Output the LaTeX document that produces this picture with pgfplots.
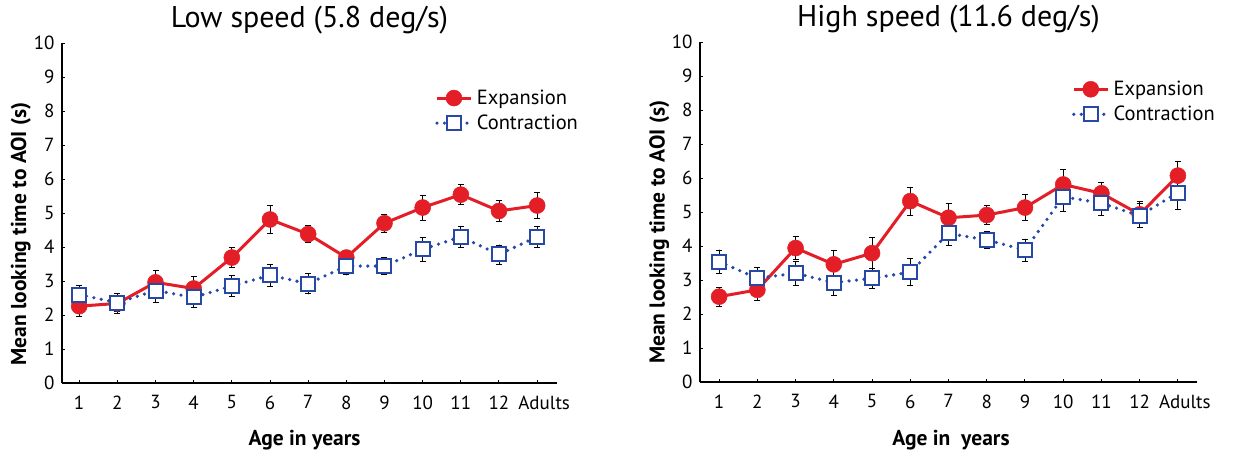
\documentclass[border=0pt]{standalone}
\usepackage{fontspec}
\setmainfont{PT Sans}
\usepackage{pgfplots}
\pgfplotsset{compat=1.18}
\definecolor{expred}{RGB}{228,30,38}
\definecolor{conblue}{RGB}{40,72,165}
\pgfplotsset{
  myaxis/.style={
    scale only axis, height=340pt,
    ymin=0, ymax=10,
    axis x line*=bottom, axis y line*=left,
    axis line style={line width=1.3pt, -, black},
    xtick={1,...,13},
    xticklabels={1,2,3,4,5,6,7,8,9,10,11,12,\hspace*{14pt}Adults},
    ytick={0,...,10},
    tick align=inside, major tick length=3pt,
    tick style={line width=1pt, black},
    tick label style={font=\fontsize{19}{22}\selectfont},
    xticklabel style={yshift=-9pt},
    yticklabel style={xshift=-4pt},
    /pgf/number format/assume math mode=true,
    label style={font=\bfseries\fontsize{21.5}{25}\selectfont},
    title style={at={(axis description cs:0.5,1)}, anchor=base, yshift=9pt, font=\fontsize{30}{36}\selectfont},
    legend style={draw=none, fill=none, inner sep=0pt, font=\fontsize{20.5}{24}\selectfont, row sep=5pt, anchor=north west,
      nodes={inner xsep=4pt}},
    legend cell align=left,
    legend image code/.code={\draw[mark repeat=2,mark phase=2] plot coordinates {(0pt,0pt) (17pt,0pt) (34pt,0pt)};},
    error bars/error bar style={black, line width=0.9pt, solid},
    error bars/error mark options={rotate=90, mark size=3pt, black, line width=0.9pt, solid},
  },
  expstyle/.style={color=expred, line width=3pt, solid, mark=*, mark size=8pt,
    mark options={fill=expred, draw=expred, line width=0.5pt, solid},
    error bars/.cd, y dir=both, y explicit},
  constyle/.style={color=conblue, line width=3.6pt, line cap=round, dash pattern=on 0pt off 7.5pt,
    mark=square*, mark size=7pt, mark options={fill=white, draw=conblue, line width=2pt, solid},
    error bars/.cd, y dir=both, y explicit},
}
\begin{document}
\begin{tikzpicture}
\useasboundingbox (0,0) rectangle (1249pt,456pt);
\begin{axis}[myaxis, at={(62pt,73pt)}, anchor=south west, width=495pt,
  xmin=0.55, xmax=13.52,
  title={Low speed (5.8 deg/s)},
  xlabel={Age in years}, ylabel={Mean looking time to AOI (s)},
  xlabel style={at={(axis description cs:0.49,-0.185)}, anchor=base},
  ylabel style={at={(axis description cs:-0.083,0.438)}, anchor=center},
  legend style={at={(0.7535,0.868)}}]
\addplot[expstyle] coordinates {
 (1,2.26) +- (0,0.30) (2,2.34) +- (0,0.29) (3,2.96) +- (0,0.34) (4,2.78) +- (0,0.34)
 (5,3.69) +- (0,0.30) (6,4.81) +- (0,0.41) (7,4.38) +- (0,0.26) (8,3.69) +- (0,0.22)
 (9,4.70) +- (0,0.27) (10,5.16) +- (0,0.37) (11,5.54) +- (0,0.30) (12,5.06) +- (0,0.31)
 (13,5.22) +- (0,0.37)};
\addlegendentry{Expansion}
\addplot[constyle] coordinates {
 (1,2.60) +- (0,0.26) (2,2.36) +- (0,0.26) (3,2.72) +- (0,0.35) (4,2.52) +- (0,0.30)
 (5,2.85) +- (0,0.31) (6,3.17) +- (0,0.32) (7,2.92) +- (0,0.30) (8,3.44) +- (0,0.26)
 (9,3.44) +- (0,0.24) (10,3.93) +- (0,0.35) (11,4.30) +- (0,0.31) (12,3.78) +- (0,0.28)
 (13,4.30) +- (0,0.31)};
\addlegendentry{Contraction}
\end{axis}
\begin{axis}[myaxis, at={(700pt,74pt)}, anchor=south west, width=497pt,
  xmin=0.5, xmax=13.5,
  title={High speed (11.6 deg/s)},
  xlabel={Age in\ \ years}, ylabel={Mean looking time to AOI (s)},
  xlabel style={at={(axis description cs:0.505,-0.188)}, anchor=base},
  ylabel style={at={(axis description cs:-0.082,0.44)}, anchor=center},
  legend style={at={(0.748,0.891)}}]
\addplot[expstyle] coordinates {
 (1,2.51) +- (0,0.28) (2,2.71) +- (0,0.32) (3,3.94) +- (0,0.33) (4,3.46) +- (0,0.42)
 (5,3.79) +- (0,0.45) (6,5.32) +- (0,0.41) (7,4.83) +- (0,0.43) (8,4.91) +- (0,0.27)
 (9,5.13) +- (0,0.39) (10,5.81) +- (0,0.43) (11,5.55) +- (0,0.31) (12,4.93) +- (0,0.39)
 (13,6.07) +- (0,0.41)};
\addlegendentry{Expansion}
\addplot[constyle] coordinates {
 (1,3.54) +- (0,0.34) (2,3.05) +- (0,0.32) (3,3.20) +- (0,0.35) (4,2.92) +- (0,0.36)
 (5,3.05) +- (0,0.29) (6,3.23) +- (0,0.40) (7,4.37) +- (0,0.35) (8,4.18) +- (0,0.24)
 (9,3.88) +- (0,0.32) (10,5.45) +- (0,0.42) (11,5.26) +- (0,0.37) (12,4.89) +- (0,0.35)
 (13,5.57) +- (0,0.50)};
\addlegendentry{Contraction}
\end{axis}
\end{tikzpicture}
\end{document}
